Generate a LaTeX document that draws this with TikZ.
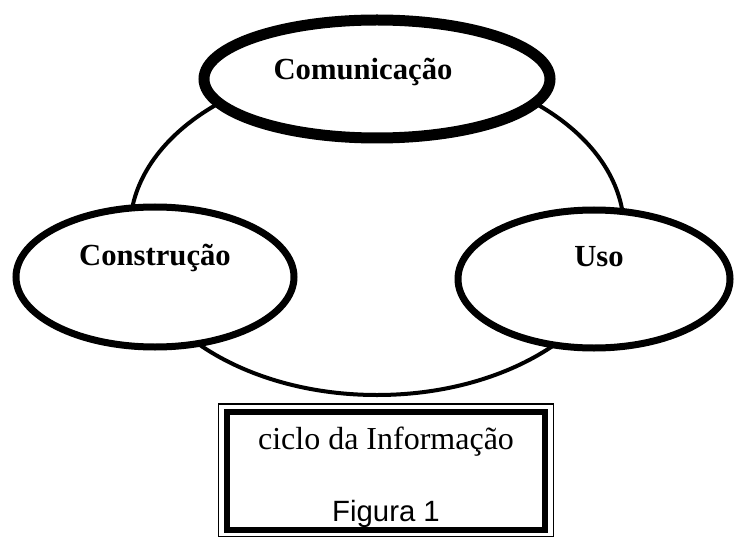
\documentclass[tikz,border=0pt]{standalone}
\usepackage{fontspec}
\setmainfont{Liberation Serif}
\newfontfamily\arialfont{Liberation Sans}
\usetikzlibrary{shapes.geometric}

\begin{document}
\begin{tikzpicture}[x=0.75pt,y=-0.75pt,
	etapa/.style={ellipse,draw,fill=white,line width=5.25pt,inner sep=0pt},
	rotulo/.style={font=\fontsize{23}{28}\selectfont\bfseries,anchor=base,inner sep=0pt},
	legenda/.style={anchor=base,inner sep=0pt}]
	\useasboundingbox (0,0) rectangle (734,538);
	% o ciclo por tras das etapas
	\draw[line width=3pt] (377,230) ellipse [x radius=247, y radius=165];
	\node[etapa,line width=8.25pt,minimum width=259.5pt,minimum height=88.5pt] (comunicacao) at (377,79) {};
	\node[etapa,minimum width=208.5pt,minimum height=105pt] (construcao) at (155,277) {};
	\node[etapa,minimum width=204pt,minimum height=103.5pt] (uso) at (594,279) {};
	\node[rotulo] (txtcom) at (363,80) {Comunicação};
	\node[rotulo] (txtcons) at (155,265) {Construção};
	\node[rotulo] (txtuso) at (599,266) {Uso};
	% caixa da legenda
	\draw[line width=1.2pt] (218.5,404) rectangle (553.5,536.5);
	\draw[line width=4.5pt] (227,412) rectangle (545,530);
	\node[legenda,font=\fontsize{24}{28}\selectfont] (ciclo) at (386,449) {ciclo da Informação};
	\node[legenda,font=\arialfont\fontsize{22}{26}\selectfont] (figura) at (386,521) {Figura 1};
\end{tikzpicture}
\end{document}
